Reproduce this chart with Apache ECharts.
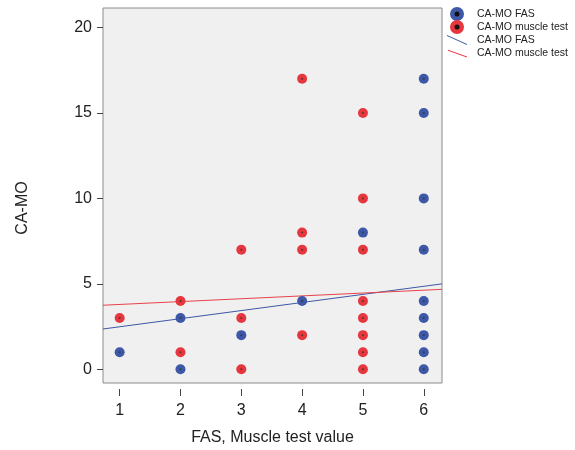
<!DOCTYPE html>
<html>
<head>
<meta charset="utf-8">
<script src="https://cdn.jsdelivr.net/npm/echarts@6/dist/echarts.min.js"></script>
<style>html,body{margin:0;padding:0;background:#fff}#c{width:575px;height:450px}</style>
</head>
<body>
<div id="c"></div>
<script>
// Data
var fasPoints = [[1,1],[2,0],[2,3],[3,2],[4,4],[5,8],[6,0],[6,1],[6,2],[6,3],[6,4],[6,7],[6,10],[6,15],[6,17]];
var musclePoints = [[1,3],[2,1],[2,4],[3,0],[3,3],[3,7],[4,2],[4,7],[4,8],[4,17],[5,0],[5,1],[5,2],[5,3],[5,4],[5,7],[5,10],[5,15]];
var fasFit = [[0.726,2.36],[6.3,5.0]];
var muscleFit = [[0.726,3.75],[6.3,4.68]];
var xTicks = [1,2,3,4,5,6];
var yTicks = [0,5,10,15,20];
var xRange = [0.726, 6.3];
var yRange = [-0.8, 21.14];

var BLUE = '#3d58a6', RED = '#e6373f';
var FONT = 'Liberation Sans, Arial, sans-serif';
var BOX = 'M0,0L0.01,0L0,0.01Z M20,14L19.99,14L20,13.99Z ';
var CIRCLE_ICON = 'path://' + BOX + 'M3,7A7,7 0 1,0 17,7A7,7 0 1,0 3,7Z';
var FAS_LINE_ICON = 'path://' + BOX + 'M0,2L20,11L20,12L0,3Z';
var MUS_LINE_ICON = 'path://' + BOX + 'M1,4L21,11L21,12L1,5Z';

var chart = echarts.init(document.getElementById('c'), null, {renderer:'canvas'});
chart.setOption({
  animation:false,
  backgroundColor:'#ffffff',
  grid:{left:103,right:133,top:8,bottom:67,outerBoundsMode:'none',containLabel:false,show:true,backgroundColor:'#f0f0f0',borderColor:'#8c8c8c',borderWidth:1},
  legend:{
    orient:'vertical',left:447,top:7,padding:0,itemGap:-1,itemWidth:20,itemHeight:14,
    textStyle:{fontFamily:FONT,fontSize:10.5,color:'#222',padding:[0,0,0,5]},
    data:[
      {name:'CA-MO FAS',icon:CIRCLE_ICON},
      {name:'CA-MO muscle test',icon:CIRCLE_ICON},
      {name:'CA-MO FAS ',icon:FAS_LINE_ICON},
      {name:'CA-MO muscle test ',icon:MUS_LINE_ICON}
    ],
    formatter:function(n){return n.trim();}
  },
  xAxis:{
    type:'value',min:xRange[0],max:xRange[1],
    splitLine:{show:false},axisLine:{show:false,onZero:false},
    axisTick:{show:true,inside:false,length:13,lineStyle:{color:'#444',type:[0,6,7,30]},customValues:xTicks},
    axisLabel:{fontFamily:FONT,fontSize:16,color:'#222',margin:20,customValues:xTicks},
    name:'FAS, Muscle test value',nameLocation:'middle',nameGap:47,
    nameTextStyle:{fontFamily:FONT,fontSize:16,color:'#222'}
  },
  yAxis:{
    type:'value',min:yRange[0],max:yRange[1],
    splitLine:{show:false},axisLine:{show:false,onZero:false},
    axisTick:{show:true,inside:false,length:6,lineStyle:{color:'#444'},customValues:yTicks},
    axisLabel:{fontFamily:FONT,fontSize:16,color:'#222',margin:11,customValues:yTicks},
    name:'CA-MO',nameLocation:'middle',nameGap:72,
    nameTextStyle:{fontFamily:FONT,fontSize:16,color:'#222',padding:[0,25,0,0]}
  },
  graphic:[
    {type:'circle',shape:{cx:457,cy:14,r:2.5},style:{fill:'#111'},z:100},
    {type:'circle',shape:{cx:457,cy:27,r:2.5},style:{fill:'#111'},z:100}
  ],
  series:[
    {name:'CA-MO FAS',type:'scatter',data:fasPoints,symbolSize:10,color:BLUE,itemStyle:{color:BLUE,opacity:1},z:3},
    {name:'CA-MO muscle test',type:'scatter',data:musclePoints,symbolSize:10,color:RED,itemStyle:{color:RED,opacity:1},z:3},
    {name:'CA-MO FAS ',type:'line',data:fasFit,symbol:'none',color:BLUE,lineStyle:{color:BLUE,width:1},z:2},
    {name:'CA-MO muscle test ',type:'line',data:muscleFit,symbol:'none',color:RED,lineStyle:{color:'#e8424a',width:1},z:2},
    {type:'scatter',data:fasPoints,symbolSize:2,itemStyle:{color:'#333'},silent:true,z:4},
    {type:'scatter',data:musclePoints,symbolSize:2,itemStyle:{color:'#333'},silent:true,z:4}
  ]
});
</script>
</body>
</html>
